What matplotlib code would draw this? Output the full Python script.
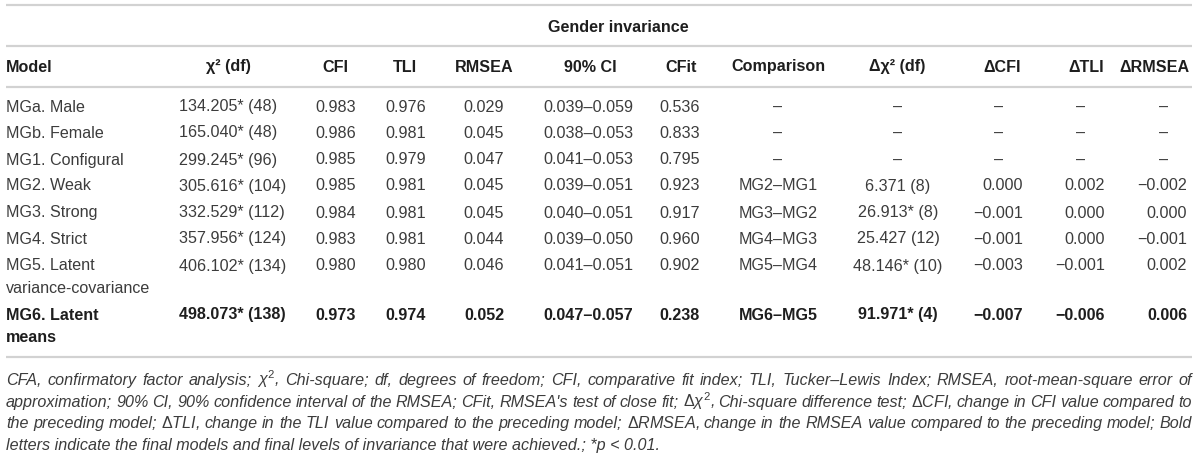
import matplotlib
matplotlib.use("Agg")
import matplotlib.pyplot as plt

plt.rcParams['font.family'] = ['Liberation Sans', 'DejaVu Sans']
plt.rcParams['mathtext.fontset'] = 'custom'
plt.rcParams['mathtext.rm'] = 'Liberation Sans'
plt.rcParams['mathtext.it'] = 'Liberation Sans:italic'
plt.rcParams['mathtext.bf'] = 'Liberation Sans:bold'

# ---------------- data ----------------
group_title = "Gender invariance"
headers = ["Model", "χ² (df)", "CFI", "TLI", "RMSEA", "90% CI", "CFit",
           "Comparison", "Δχ² (df)", "ΔCFI", "ΔTLI", "ΔRMSEA"]
models = ["MGa. Male", "MGb. Female", "MG1. Configural", "MG2. Weak",
          "MG3. Strong", "MG4. Strict", "MG5. Latent\nvariance-covariance",
          "MG6. Latent\nmeans"]
chi2_df = ["134.205* (48)", "165.040* (48)", "299.245* (96)", "305.616* (104)",
           "332.529* (112)", "357.956* (124)", "406.102* (134)", "498.073* (138)"]
cfi = ["0.983", "0.986", "0.985", "0.985", "0.984", "0.983", "0.980", "0.973"]
tli = ["0.976", "0.981", "0.979", "0.981", "0.981", "0.981", "0.980", "0.974"]
rmsea = ["0.029", "0.045", "0.047", "0.045", "0.045", "0.044", "0.046", "0.052"]
ci90 = ["0.039–0.059", "0.038–0.053", "0.041–0.053", "0.039–0.051",
        "0.040–0.051", "0.039–0.050", "0.041–0.051", "0.047–0.057"]
cfit = ["0.536", "0.833", "0.795", "0.923", "0.917", "0.960", "0.902", "0.238"]
comparison = ["–", "–", "–", "MG2–MG1", "MG3–MG2", "MG4–MG3", "MG5–MG4", "MG6–MG5"]
dchi2 = ["–", "–", "–", "6.371 (8)", "26.913* (8)", "25.427 (12)", "48.146* (10)", "91.971* (4)"]
dcfi = ["–", "–", "–", "0.000", "−0.001", "−0.001", "−0.003", "−0.007"]
dtli = ["–", "–", "–", "0.002", "0.000", "0.000", "−0.001", "−0.006"]
drmsea = ["–", "–", "–", "−0.002", "0.000", "−0.001", "0.002", "0.006"]
bold_rows = [False, False, False, False, False, False, False, True]

footnote_lines = [
    r"CFA, confirmatory factor analysis; $\chi^2$, Chi-square; df, degrees of freedom; CFI, comparative fit index; TLI, Tucker–Lewis Index; RMSEA, root-mean-square error of",
    r"approximation; 90% CI, 90% confidence interval of the RMSEA; CFit, RMSEA's test of close fit; $\Delta\chi^2$, Chi-square difference test; $\Delta$CFI, change in CFI value compared to",
    r"the preceding model; $\Delta$TLI, change in the TLI value compared to the preceding model; $\Delta$RMSEA, change in the RMSEA value compared to the preceding model; Bold",
    r"letters indicate the final models and final levels of invariance that were achieved.; *p < 0.01.",
]

# ---------------- layout ----------------
W, H = 1200, 454
fig = plt.figure(figsize=(W / 100, H / 100), dpi=100)
ax = fig.add_axes([0, 0, 1, 1])
ax.set_xlim(0, W)
ax.set_ylim(H, 0)
ax.axis('off')

FS = 11.6
TXT = '#3c3c3c'
BLD = '#1e1e1e'
LINE = '#d2d2d2'
x0, x1 = 6, 1192

for y in [5, 46, 87, 357]:
    ax.plot([x0, x1], [y, y], color=LINE, lw=1.6, solid_capstyle='butt')

ax.text(618, 27, group_title, ha='center', va='center', fontsize=FS,
        fontweight='bold', color=BLD)

# column specs: (x, ha) for header and for data
hdr_pos = [(6, 'left'), (228, 'center'), (335, 'center'), (405, 'center'),
           (484, 'center'), (590, 'center'), (681, 'center'), (778, 'center'),
           (897, 'center'), (1021, 'right'), (1104, 'right'), (1189, 'right')]
for (x, ha), h in zip(hdr_pos, headers):
    ax.text(x, 67, h, ha=ha, va='center', fontsize=FS, fontweight='bold', color=BLD)

row_y = [107, 133, 160, 186, 213, 239, 266, 315]
line_gap = 22.5

columns = [models, chi2_df, cfi, tli, rmsea, ci90, cfit, comparison, dchi2, dcfi, dtli, drmsea]
data_pos = [(6, 'left'), (179, 'left'), (336, 'center'), (406, 'center'),
            (484, 'center'), (588, 'center'), (680, 'center'), (778, 'center'),
            (898, 'center'), (1023, 'right'), (1105, 'right'), (1187, 'right')]
dash_x = [None, None, None, None, None, None, None, 778, 898, 999, 1081, 1164]

for ci, (col, (x, ha)) in enumerate(zip(columns, data_pos)):
    for ri, val in enumerate(col):
        bold = bold_rows[ri]
        kw = dict(fontsize=FS, color=BLD if bold else TXT,
                  fontweight='bold' if bold else 'normal', va='center')
        if val == '–' and dash_x[ci] is not None:
            ax.text(dash_x[ci], row_y[ri], val, ha='center', **kw)
            continue
        parts = val.split('\n')
        for k, p in enumerate(parts):
            ax.text(x, row_y[ri] + k * line_gap, p, ha=ha, **kw)

# ---------------- footnote (justified) ----------------
fig.canvas.draw()
renderer = fig.canvas.get_renderer()
fkw = dict(fontsize=FS, style='italic', color=TXT, va='baseline', ha='left')

def width(s):
    t = ax.text(0, 0, s, **fkw)
    w = t.get_window_extent(renderer).width
    t.remove()
    return w

foot_y = [380, 402, 423, 445]
for li, line in enumerate(footnote_lines):
    yb = foot_y[li] + 5
    words = line.split(' ')
    if li < len(footnote_lines) - 1:
        ws = [width(w) for w in words]
        gap = (x1 - x0 - sum(ws)) / (len(words) - 1)
        x = x0
        for w, wd in zip(words, ws):
            ax.text(x, yb, w, **fkw)
            x += wd + gap
    else:
        ax.text(x0, yb, line, **fkw)

fig.savefig('out.png', dpi=100)
